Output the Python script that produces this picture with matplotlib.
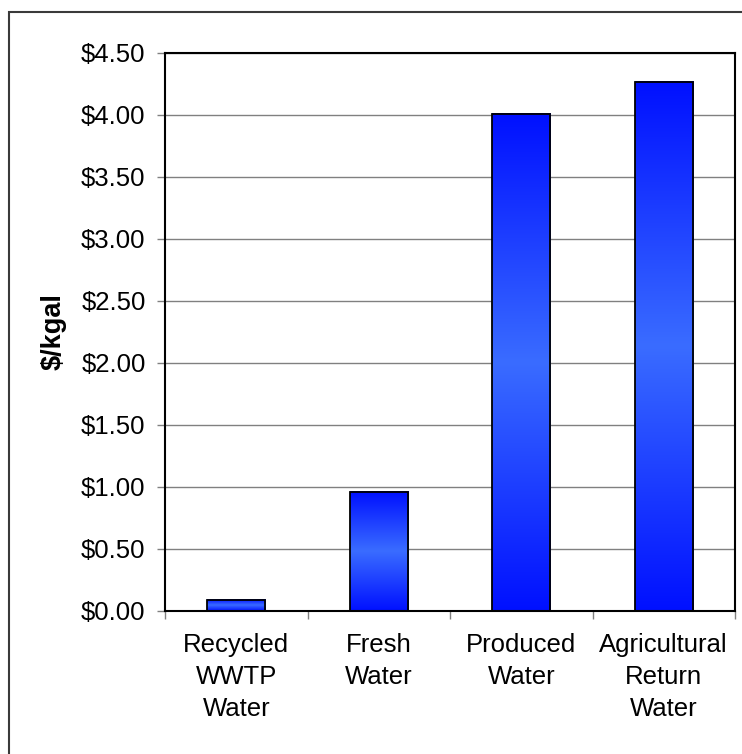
import numpy as np
import matplotlib
matplotlib.use("Agg")
import matplotlib.pyplot as plt
from matplotlib.colors import LinearSegmentedColormap
from matplotlib.patches import Rectangle
from matplotlib.ticker import FuncFormatter, MultipleLocator

categories = ["Recycled\nWWTP\nWater", "Fresh\nWater", "Produced\nWater", "Agricultural\nReturn\nWater"]
costs = [0.09, 0.96, 4.01, 4.27]

plt.rcParams['font.family'] = ['Liberation Sans', 'DejaVu Sans']
FS = 18.5

fig = plt.figure(figsize=(7.42, 7.54), dpi=100)
ax = fig.add_axes([165 / 742, 1 - 611 / 754, 570 / 742, 558 / 754])

# chart frame around everything
fig.patches.append(Rectangle((9 / 742, -0.05), 1.0, 1 - 12 / 754 + 0.05,
                             transform=fig.transFigure, fill=False,
                             edgecolor='#3a3a3a', linewidth=1.5))

# blue-light-blue-blue shading for each bar
cmap = LinearSegmentedColormap.from_list('barshade', ['#0010ff', '#3a6cff', '#0010ff'])
grad = np.linspace(0, 1, 256).reshape(-1, 1)
width = 0.41
x = np.arange(len(categories))
for xi, val in zip(x, costs):
    ax.imshow(grad, cmap=cmap, aspect='auto', origin='lower',
              extent=[xi - width / 2, xi + width / 2, 0, val], zorder=2,
              interpolation='bilinear')
bars = ax.bar(x, costs, width=width, facecolor='none', edgecolor='black',
              linewidth=1.3, zorder=3)

ax.set_xlim(-0.5, len(categories) - 0.5)
ax.set_ylim(0, 4.5)
ax.yaxis.set_major_locator(MultipleLocator(0.5))
ax.yaxis.set_major_formatter(FuncFormatter(lambda v, p: f"${v:.2f}"))
ax.grid(True, axis='y', color='#808080', linewidth=1.0, zorder=1)
ax.set_axisbelow(True)

ax.set_xticks(x)
ax.set_xticklabels(categories, fontsize=FS, linespacing=1.42)
ax.set_xticks(np.arange(len(categories) + 1) - 0.5, minor=True)
ax.tick_params(axis='x', which='major', length=0, pad=16)
ax.tick_params(axis='x', which='minor', length=6, color='#808080', width=1.0)
ax.tick_params(axis='y', length=6, color='#808080', width=1.0, pad=8, labelsize=FS)

for s in ax.spines.values():
    s.set_linewidth(1.5)
    s.set_color('black')

ax.set_ylabel("$/kgal", fontsize=19.5, fontweight='bold')
ax.yaxis.set_label_coords(-0.172, 0.5)

fig.savefig("out.png", dpi=100)
